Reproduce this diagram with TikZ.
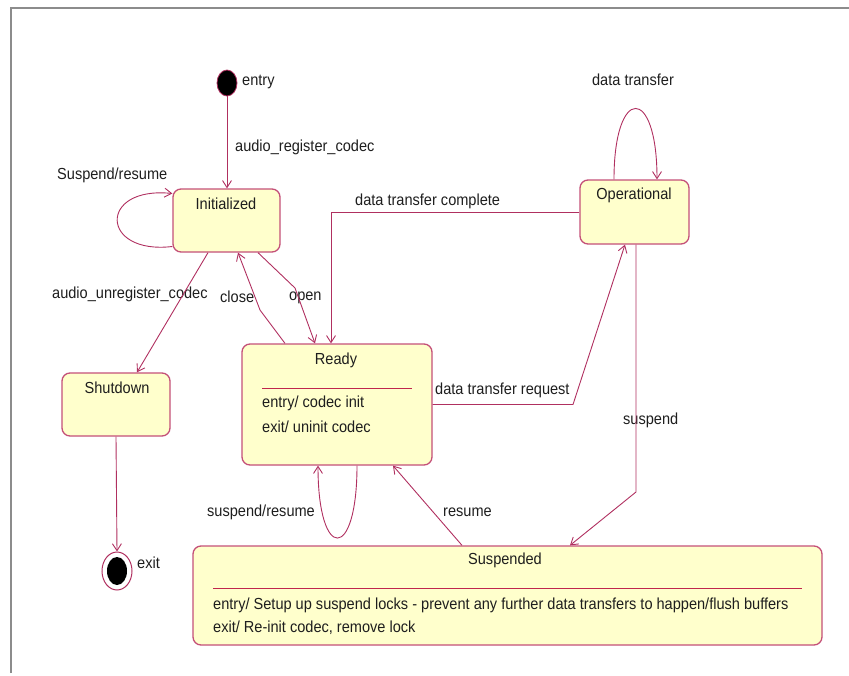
\documentclass[tikz,border=0pt]{standalone}
\usepackage{fontspec}
\setmainfont[FakeStretch=0.91]{Liberation Sans}
\usetikzlibrary{arrows.meta,calc,shapes.geometric}
\definecolor{lc}{RGB}{176,48,96}
\definecolor{bc}{RGB}{196,80,120}
\definecolor{fillc}{RGB}{255,255,204}
\definecolor{framec}{RGB}{140,140,140}
\definecolor{txtc}{RGB}{30,30,30}
\begin{document}
\begin{tikzpicture}[x=1pt,y=-1pt,
  every node/.style={font=\fontsize{16}{19}\selectfont, text=txtc},
  state/.style={draw=bc, fill=fillc, rounded corners=8pt, line width=1.3pt, inner sep=0pt},
  arr/.style={draw=lc, line width=0.9pt, -{Straight Barb[length=7pt,width=9pt]}},
  conn/.style={draw=lc, line width=0.9pt},
  lbl/.style={anchor=west, inner sep=0pt},
  ttl/.style={anchor=center, inner sep=0pt},
  sep/.style={draw=lc!80!red, line width=1pt}]
\useasboundingbox (0,0) rectangle (849,675);
% frame
\draw[framec, line width=2pt] (11,673) -- (11,7.5) -- (849,7.5);

% states
\node[state, minimum width=107pt, minimum height=63pt] (init) at (226.5,220.5) {};
\node[state, minimum width=108pt, minimum height=63pt] (shut) at (116,404.5) {};
\node[state, minimum width=190pt, minimum height=121pt] (ready) at (337,404.5) {};
\node[state, minimum width=109pt, minimum height=64pt] (oper) at (634.5,212) {};
\node[state, minimum width=629pt, minimum height=99pt] (susp) at (507.5,595.5) {};

% pseudo states
\node[ellipse, fill=black, draw=lc, line width=0.8pt, minimum width=20pt, minimum height=26pt, inner sep=0pt] (entry) at (227,83) {};
\node[ellipse, fill=white, draw=lc, line width=1pt, minimum width=30pt, minimum height=38pt, inner sep=0pt] (exit) at (117,571) {};
\node[ellipse, fill=black, minimum width=20pt, minimum height=28pt, inner sep=0pt] (exitin) at (exit.center) {};

% titles and internal texts
\node[ttl] (tinit) at (226,204) {Initialized};
\node[ttl] (tshut) at (117,388) {Shutdown};
\node[ttl] (tready) at (336,360) {Ready};
\node[ttl] (toper) at (634,195) {Operational};
\node[ttl] (tsusp) at (505,560) {Suspended};
\draw[sep] (262,388) -- (412,388);
\node[lbl] (r1) at (262,403) {entry/ codec init};
\node[lbl] (r2) at (262,427) {exit/ uninit codec};
\draw[sep] (213,588) -- (802,588);
\node[lbl] (s1) at (213,605) {entry/ Setup up suspend locks - prevent any further data transfers to happen/flush buffers};
\node[lbl] (s2) at (213,628) {exit/ Re-init codec, remove lock};

% labels
\node[lbl] (lentry) at (242,82) {entry};
\node[lbl] (lexit) at (137,563) {exit};
\node[lbl] (l1) at (235,147) {audio\_register\_codec};
\node[lbl] (l2) at (57,175) {Suspend/resume};
\node[lbl] (l3) at (52,294) {audio\_unregister\_codec};
\node[lbl] (l4) at (220,297) {close};
\node[lbl] (l5) at (289,298) {open};
\node[ttl] (l6) at (633,80) {data transfer};
\node[lbl] (l7) at (355,201) {data transfer complete};
\node[lbl] (l8) at (435,390) {data transfer request};
\node[lbl] (l9) at (623,420) {suspend};
\node[lbl] (l10) at (207,512) {suspend/resume};
\node[lbl] (l11) at (443,512) {resume};

% connectors
\draw[arr] (entry.south) -- (entry.south |- init.north);
\draw[arr] ([yshift=-26pt]init.west) .. controls (100,255) and (98,186) .. ([yshift=27pt]init.west);
\draw[arr] ([xshift=-18.5pt]init.south) -- ([xshift=21pt]shut.north);
\draw[arr] (shut.south) -- (exit.north);
\coordinate (cb) at (260,310);
\draw[arr] ([xshift=-52pt]ready.north) -- (cb) -- ([xshift=11.5pt]init.south);
\coordinate (ob) at (295,288);
\draw[arr] ([xshift=31.5pt]init.south) -- (ob) -- ([xshift=-22pt]ready.north);
\draw[arr] (oper.west) -| ([xshift=-6pt]ready.north);
\coordinate (rb) at (573,404.5);
\draw[arr] (ready.east) -- (rb) -- ([xshift=-9.5pt]oper.south);
\coordinate (sb) at (636,492);
\draw[arr] ([xshift=1.5pt]oper.south) -- (sb) -- ([xshift=62.5pt]susp.north);
\draw[arr] ([xshift=-20.5pt]oper.north) .. controls (614,85) and (657,85) .. ([xshift=22.5pt]oper.north);
\draw[arr] ([xshift=20pt]ready.south) .. controls (357,562) and (318,562) .. ([xshift=-19pt]ready.south);
\draw[arr] ([xshift=-45.5pt]susp.north) -- ([xshift=56pt]ready.south);
\end{tikzpicture}
\end{document}
